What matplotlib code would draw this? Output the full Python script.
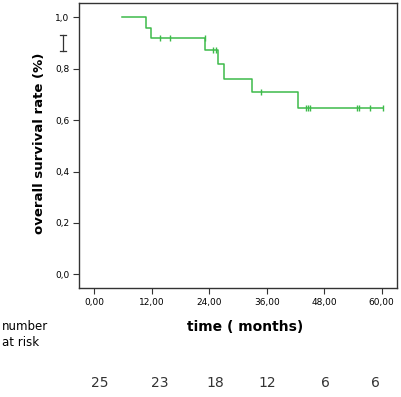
import matplotlib
matplotlib.use('Agg')
import matplotlib.pyplot as plt
from matplotlib.lines import Line2D

# Kaplan-Meier stappen (maanden, overleving)
step_times = [5.7, 10.8, 11.8, 23.2, 25.8, 27.1, 33.0, 42.6, 60.2]
step_surv = [1.0, 0.96, 0.921, 0.873, 0.818, 0.761, 0.710, 0.649, 0.649]

# gecensureerde waarnemingen
cens_times = [13.7, 15.9, 23.2, 24.7, 25.5, 34.9, 44.3, 44.6, 45.0, 54.8, 55.2, 57.6, 60.2]
cens_surv = [0.921, 0.921, 0.921, 0.873, 0.873, 0.710, 0.649, 0.649, 0.649, 0.649, 0.649, 0.649, 0.649]

xticks = [0, 12, 24, 36, 48, 60]
xticklabels = ['0,00', '12,00', '24,00', '36,00', '48,00', '60,00']
yticks = [0.0, 0.2, 0.4, 0.6, 0.8, 1.0]
yticklabels = ['0,0', '0,2', '0,4', '0,6', '0,8', '1,0']

at_risk = [25, 23, 18, 12, 6, 6]
# horizontale plek van de getallen (in maanden, zoals in het origineel)
risk_pos = [1.2, 13.7, 25.3, 36.1, 48.2, 58.7]

green = '#3dbb4a'

fig = plt.figure(figsize=(4.02, 3.97), dpi=100)
W, H = 402, 397
ax = fig.add_axes([79 / W, 1 - 288 / H, (397 - 79) / W, (288 - 3) / H])

ax.step(step_times, step_surv, where='post', color=green, lw=1.1)
ax.plot(cens_times, cens_surv, ls='none', marker='|', ms=5, mew=1, color=green)

ax.set_xlim(-3.2, 63.2)
ax.set_ylim(-0.053, 1.056)
ax.set_xticks(xticks)
ax.set_xticklabels(xticklabels, fontsize=6.5)
ax.set_yticks(yticks)
ax.set_yticklabels(yticklabels, fontsize=6.5)
ax.tick_params(direction='out', length=4, width=0.8, color='#333333', pad=3)
for s in ax.spines.values():
    s.set_linewidth(1.0)
    s.set_color('#333333')

ax.set_ylabel('overall survival rate (%)', fontsize=9.5, fontweight='bold')
ax.yaxis.set_label_coords((40 - 79) / (397 - 79), (288 - 143) / (288 - 3))
ax.set_xlabel('time ( months)', fontsize=10, fontweight='bold')
ax.xaxis.set_label_coords((245 - 79) / (397 - 79), -(327 - 288) / (288 - 3))
ax.xaxis.label.set_va('center')
ax.yaxis.label.set_va('center')

# "I"-teken links naast de as
fig.add_artist(Line2D([63 / W, 63 / W], [1 - 35 / H, 1 - 51 / H], color='#333333', lw=0.9))
fig.add_artist(Line2D([60 / W, 66 / W], [1 - 35 / H, 1 - 35 / H], color='#333333', lw=0.9))
fig.add_artist(Line2D([60 / W, 66 / W], [1 - 51 / H, 1 - 51 / H], color='#333333', lw=0.9))

fig.text(2 / W, 1 - 335 / H, 'number\nat risk', fontsize=8.5, ha='left', va='center', linespacing=1.3)

for t, n in zip(risk_pos, at_risk):
    xf = ax.transData.transform((t, 0))[0] / W
    fig.text(xf, 1 - 383 / H, str(n), fontsize=10, ha='center', va='center', color='#333333')

fig.savefig('out.png', dpi=100)
